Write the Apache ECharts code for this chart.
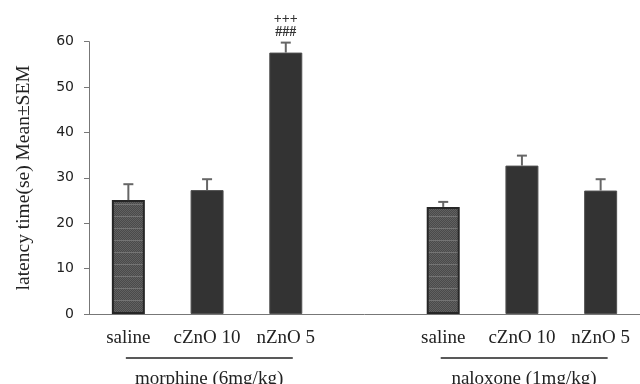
<!DOCTYPE html>
<html><head><meta charset="utf-8">
<script src="https://cdn.jsdelivr.net/npm/echarts@6/dist/echarts.min.js"></script>
<style>html,body{margin:0;padding:0;background:#fff}#c{width:640px;height:384px}</style>
</head><body><div id="c"></div>
<script>
const categories = ['saline','cZnO 10','nZnO 5','','saline','cZnO 10','nZnO 5'];
const means = [25.1, 27.3, 57.6, null, 23.6, 32.7, 27.2];
const sems = [3.5, 2.4, 2.2, null, 1.1, 2.2, 2.5];
const marks = ['', '', '+++\n###', '', '', '', ''];
const yTicks = [0, 10, 20, 30, 40, 50, 60];
const groups = [
  {name: 'morphine (6mg/kg)', from: 0, to: 2},
  {name: 'naloxone (1mg/kg)', from: 4, to: 6}
];
const salineIdx = [0, 4];

// texture for saline bars
function makePattern() {
  const c = document.createElement('canvas');
  c.width = 4; c.height = 12;
  const ctx = c.getContext('2d');
  ctx.fillStyle = '#4a4a4a'; ctx.fillRect(0, 0, 4, 12);
  ctx.fillStyle = '#616161';
  for (let y = 0; y < 12; y++) for (let x = 0; x < 4; x++) if ((x + y) % 2 === 0) ctx.fillRect(x, y, 1, 1);
  ctx.fillStyle = '#747474'; ctx.fillRect(0, 0, 4, 1);
  return c;
}
const pattern = {image: makePattern(), repeat: 'repeat'};

const chart = echarts.init(document.getElementById('c'));
const barData = means.map((v, i) => v == null ? null : {
  value: v,
  itemStyle: salineIdx.includes(i)
    ? {color: pattern, borderColor: '#262626', borderWidth: 2}
    : {color: '#333333', borderColor: '#505050', borderWidth: 1}
});
const errData = means.map((v, i) => v == null ? [i, null, null] : [i, v, v + sems[i]]);

chart.setOption({
  animation: false,
  grid: {left: 89, right: -7, top: 41.7, bottom: 70, containLabel: false},
  xAxis: {
    type: 'category', data: categories,
    axisLine: {lineStyle: {color: '#777', width: 1}},
    axisTick: {show: false},
    axisLabel: {color: '#222', fontFamily: 'Liberation Serif', fontSize: 19, margin: 15, interval: 0, hideOverlap: false}
  },
  yAxis: {
    type: 'value', min: 0, max: 60, interval: 10,
    name: 'latency time(se) Mean±SEM', nameLocation: 'middle', nameGap: 55,
    nameTextStyle: {color: '#222', fontFamily: 'Liberation Serif', fontSize: 19.5},
    axisLine: {show: true, lineStyle: {color: '#777', width: 1}},
    axisTick: {show: true, length: 5, lineStyle: {color: '#777'}},
    splitLine: {show: false},
    axisLabel: {color: '#222', fontFamily: 'DejaVu Sans', fontSize: 14, margin: 15,
      formatter: v => yTicks.includes(v) ? String(v) : ''}
  },
  series: [
    {type: 'bar', data: barData, barWidth: 33, z: 2},
    {type: 'custom', data: errData, z: 3,
      renderItem: (params, api) => {
        const i = api.value(0);
        if (means[i] == null) return null;
        const top = api.coord([i, api.value(2)]);
        const base = api.coord([i, api.value(1)]);
        const children = [
          {type: 'line', shape: {x1: top[0], y1: base[1], x2: top[0], y2: top[1]}, style: {stroke: '#666', lineWidth: 2}},
          {type: 'line', shape: {x1: top[0] - 5, y1: top[1], x2: top[0] + 5, y2: top[1]}, style: {stroke: '#666', lineWidth: 2}}
        ];
        if (marks[i]) {
          children.push({type: 'text', style: {text: marks[i], x: top[0], y: top[1] - 4, align: 'center', verticalAlign: 'bottom',
            fill: '#333', font: 'bold 14px "Liberation Serif"', lineHeight: 13}});
        }
        return {type: 'group', children};
      }}
  ]
});

const gfx = [];
groups.forEach(g => {
  const a = chart.convertToPixel({xAxisIndex: 0}, g.from);
  const b = chart.convertToPixel({xAxisIndex: 0}, g.to);
  const y0 = chart.convertToPixel({yAxisIndex: 0}, 0);
  gfx.push({type: 'line', shape: {x1: a - 2.5, y1: y0 + 44, x2: b + 7, y2: y0 + 44}, style: {stroke: '#222', lineWidth: 1.5}});
  gfx.push({type: 'text', style: {text: g.name, x: (a + b) / 2 + 2, y: y0 + 65, align: 'center', verticalAlign: 'middle',
    fill: '#222', font: '19px "Liberation Serif"'}});
});
chart.setOption({graphic: gfx});
</script></body></html>
